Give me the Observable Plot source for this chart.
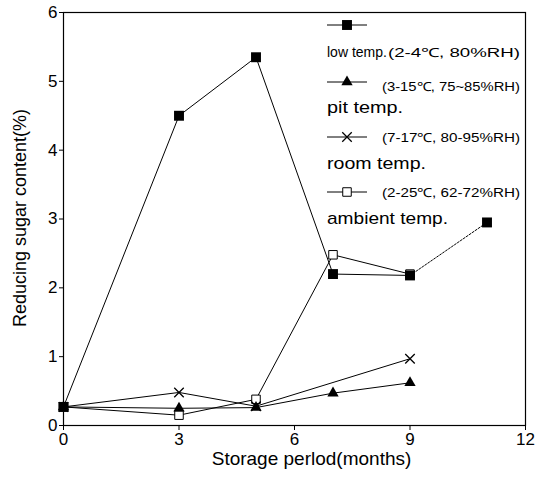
<!DOCTYPE html>
<html>
<head>
<meta charset="utf-8">
<script src="https://cdn.jsdelivr.net/npm/d3@7"></script>
<script src="https://cdn.jsdelivr.net/npm/@observablehq/plot@0.6"></script>
<style>
  html, body { margin: 0; padding: 0; background: #fff; }
  svg { display: block; }
</style>
</head>
<body>
<div id="chart"></div>
<script>
// ---- data ----
const seriesNames = ["low temp.", "pit temp.", "room temp.", "ambient temp."];
const seriesConditions = ["(2-4℃, 80%RH)", "(3-15℃, 75~85%RH)", "(7-17℃, 80-95%RH)", "(2-25℃, 62-72%RH)"];

const lowMonths = [0, 3, 5, 7, 9, 11];
const lowValues = [0.27, 4.5, 5.35, 2.2, 2.18, 2.95];

const pitMonths = [0, 3, 5, 7, 9];
const pitValues = [0.27, 0.25, 0.26, 0.47, 0.62];

const roomMonths = [0, 3, 5, 9];
const roomValues = [0.27, 0.48, 0.28, 0.97];

const ambientMonths = [0, 3, 5, 7, 9];
const ambientValues = [0.27, 0.15, 0.38, 2.48, 2.2];

const xTicks = [0, 3, 6, 9, 12];
const yTicks = [0, 1, 2, 3, 4, 5, 6];
const xTitle = "Storage perlod(months)";
const yTitle = "Reducing sugar content(%)";

// ---- build tables ----
const toRows = (ms, vs) => ms.map((m, i) => ({month: m, value: vs[i]}));
const low = toRows(lowMonths, lowValues);
const lowSolid = low.filter(d => d.month <= 9);
const lowDotted = low.filter(d => d.month >= 9);
const pit = toRows(pitMonths, pitValues);
const room = toRows(roomMonths, roomValues);
const ambient = toRows(ambientMonths, ambientValues);

const FONT = "'Liberation Sans', Arial, Helvetica, sans-serif";

const styles = [
  {symbol: "square", r: 5.6, fill: "black", stroke: "none", strokeWidth: 0},
  {symbol: "triangle", r: 4.2, fill: "black", stroke: "none", strokeWidth: 0},
  {symbol: "times", r: 4.4, fill: "none", stroke: "black", strokeWidth: 1.3},
  {symbol: "square", r: 4.8, fill: "white", stroke: "black", strokeWidth: 1}
];

const lineOpts = {x: "month", y: "value", stroke: "black", strokeWidth: 1};
const dotOpts = (s) => ({x: "month", y: "value", symbol: () => s.symbol, r: s.r, fill: s.fill, stroke: s.stroke, strokeWidth: s.strokeWidth});

const chart = Plot.plot({
  width: 535,
  height: 481,
  marginLeft: 63,
  marginRight: 10,
  marginTop: 12,
  marginBottom: 56,
  style: {fontFamily: FONT, fontSize: "17px", color: "black", background: "white"},
  x: {domain: [0, 12], ticks: xTicks, tickSize: 5, tickPadding: 2, tickFormat: "d", label: null},
  y: {domain: [0, 6], ticks: yTicks, tickSize: 4, tickPadding: 2, tickFormat: "d", label: null},
  symbol: {type: "identity"},
  marks: [
    Plot.frame({stroke: "black", strokeWidth: 1.2}),
    Plot.line(ambient, lineOpts),
    Plot.line(room, lineOpts),
    Plot.line(pit, lineOpts),
    Plot.line(lowSolid, lineOpts),
    Plot.line(lowDotted, {...lineOpts, strokeDasharray: "2,1.6"}),
    Plot.dot(ambient, dotOpts(styles[3])),
    Plot.dot(room, dotOpts(styles[2])),
    Plot.dot(pit, dotOpts(styles[1])),
    Plot.dot(low, dotOpts(styles[0])),
    Plot.text([xTitle], {text: d => d, frameAnchor: "bottom", textAnchor: "middle", dx: 17, dy: 39, fontSize: 19, ariaLabel: "x-title"}),
    Plot.text([yTitle], {text: d => d, frameAnchor: "left", textAnchor: "middle", rotate: -90, dx: -43, dy: -1, fontSize: 18, ariaLabel: "y-title"})
  ]
});

document.getElementById("chart").appendChild(chart);
const svg = d3.select(chart);

// enlarge tick labels to match the reference
svg.selectAll("[aria-label^='x-axis'] text, [aria-label^='y-axis'] text")
  .attr("font-size", 17).style("font-size", "17px");
// the reference's titles are set in a wide face
svg.selectAll("[aria-label='x-title'] text").attr("textLength", 248).attr("lengthAdjust", "spacingAndGlyphs");
svg.selectAll("[aria-label='y-title'] text").attr("textLength", 240).attr("lengthAdjust", "spacingAndGlyphs");

// ---- legend (inside plot, top-right) ----
const symbolTypes = {square: d3.symbolSquare, triangle: d3.symbolTriangle, times: d3.symbolTimes};
const lg = svg.append("g").attr("font-family", FONT).attr("fill", "black").attr("text-anchor", "start");
const markerRowY = [25, 82, 137, 192];
const nameRowY = [52, 107, 163, 218];
const nameSizes = [14, 17, 17, 17];
const nameWidths = [null, 76, 99, 121];
const condX = [388, 382, 382, 382];
const condRight = 520;
const lx0 = 327, lx1 = 367, lxc = 347;
seriesNames.forEach((name, i) => {
  const s = styles[i];
  const y = markerRowY[i];
  lg.append("line").attr("x1", lx0).attr("x2", lx1).attr("y1", y).attr("y2", y)
    .attr("stroke", "black").attr("stroke-width", 1);
  lg.append("path")
    .attr("transform", `translate(${lxc},${y})`)
    .attr("d", d3.symbol(symbolTypes[s.symbol], Math.PI * s.r * s.r)())
    .attr("fill", s.fill).attr("stroke", s.stroke).attr("stroke-width", s.strokeWidth);
  const t = lg.append("text").attr("x", lx0).attr("y", nameRowY[i]).attr("dy", "0.35em")
    .attr("text-anchor", "start").attr("font-size", nameSizes[i]).text(name);
  if (nameWidths[i]) t.attr("textLength", nameWidths[i]).attr("lengthAdjust", "spacingAndGlyphs");
  const cy = i === 0 ? nameRowY[i] + 1 : y + (i === 1 ? 5 : 1);
  lg.append("text").attr("x", condX[i]).attr("y", cy).attr("dy", "0.35em")
    .attr("text-anchor", "start").attr("font-size", 12.5)
    .attr("textLength", condRight - condX[i]).attr("lengthAdjust", "spacingAndGlyphs")
    .text(seriesConditions[i]);
});
</script>
</body>
</html>
